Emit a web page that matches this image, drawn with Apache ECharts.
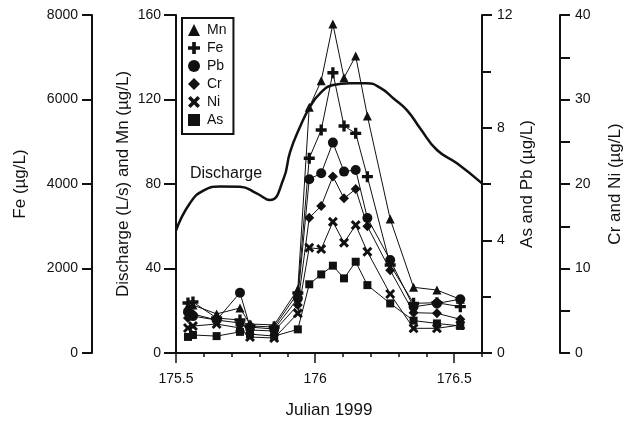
<!DOCTYPE html>
<html>
<head>
<meta charset="utf-8">
<title>Discharge and metals, Julian 1999</title>
<script src="https://cdn.jsdelivr.net/npm/echarts@6/dist/echarts.min.js"></script>
<style>
	html, body { margin: 0; padding: 0; background: #fff; }
	#chart { width: 624px; height: 421px; }
</style>
</head>
<body>
<div id="chart"></div>
<script>
// sample times (Julian day, 1999) shared by all metal series
var sampleDays = [175.543, 175.561, 175.646, 175.73, 175.766, 175.853, 175.938, 175.979, 176.022, 176.064, 176.104, 176.146, 176.188, 176.27, 176.354, 176.438, 176.522];
var mnConc = [22.2, 22.7, 18.5, 21.3, 13.7, 13.3, 30.2, 116.3, 128.9, 155.7, 130.3, 140.6, 112.2, 63.4, 31.1, 29.8, 25.4];
var feConc = [1183, 1207, 828, 781, 639, 615, 1420, 4609, 5278, 6634, 5373, 5200, 4173, 2083, 1176, 1190, 1096];
var pbConc = [1.46, 1.31, 1.17, 2.14, 0.92, 0.85, 1.94, 6.17, 6.38, 7.47, 6.44, 6.5, 4.79, 3.3, 1.64, 1.76, 1.91];
var crConc = [4.14, 4.61, 3.9, 3.55, 2.72, 2.6, 5.68, 16.0, 17.4, 20.9, 18.3, 19.4, 15.0, 9.8, 4.77, 4.7, 3.99];
var niConc = [2.96, 3.19, 3.43, 2.96, 1.89, 1.77, 4.7, 12.46, 12.3, 15.53, 13.05, 15.14, 11.98, 6.98, 2.92, 2.92, 3.31];
var asConc = [0.57, 0.64, 0.6, 0.75, 0.67, 0.6, 0.84, 2.44, 2.79, 3.1, 2.65, 3.24, 2.41, 1.76, 1.15, 1.05, 0.96];

// discharge hydrograph (L/s)
var dischargeDays = [175.5, 175.55, 175.6, 175.66, 175.73, 175.79, 175.838, 175.886, 175.91, 175.946, 175.982, 176.018, 176.065, 176.126, 176.186, 176.236, 176.282, 176.33, 176.378, 176.438, 176.51, 176.6];
var dischargeFlow = [58.0, 70.9, 77.0, 78.8, 78.7, 75.6, 72.4, 82.2, 95.1, 107.1, 116.6, 122.9, 126.9, 127.7, 127.7, 125.4, 120.5, 115.0, 106.3, 96.1, 89.8, 80.3];

// tick labels
var xMajorTicks = [175.5, 176, 176.5];

var plusPath = "path://M-1,-3.3H1V-1H3.3V1H1V3.3H-1V1H-3.3V-1H-1Z";
var crossPath = "path://M1.556,-2.687L2.687,-1.556L1.131,0L2.687,1.556L1.556,2.687L0,1.131L-1.556,2.687L-2.687,1.556L-1.131,0L-2.687,-1.556L-1.556,-2.687L0,-1.131Z";

function pairs(xs, ys) {
	return xs.map(function (x, i) {
		return [x, ys[i]];
	});
}

function metalSeries(name, values, axis, symbol, size) {
	return {
		name: name,
		type: "line",
		yAxisIndex: axis,
		data: pairs(sampleDays, values),
		symbol: symbol,
		symbolSize: size,
		showAllSymbol: true,
		lineStyle: { color: "#111", width: 1 },
		itemStyle: { color: "#111" },
		z: 3
	};
}

var axisLine = { show: true, lineStyle: { color: "#111", width: 2 } };
var axisTick = { show: true, length: 10, lineStyle: { color: "#111", width: 2 } };
var nameStyle = { color: "#111", fontSize: 17 };

function plain(v) {
	return String(v);
}

function drawChart() {
	var myChart = echarts.init(document.getElementById("chart"));
	myChart.setOption({
		animation: false,
		backgroundColor: "#fff",
		textStyle: { fontFamily: "Liberation Sans, Arial, sans-serif" },
		grid: {
			left: 176,
			right: 142,
			top: 15,
			bottom: 68,
			containLabel: false,
			outerBoundsMode: "none"
		},
		legend: {
			orient: "vertical",
			left: 182,
			top: 18,
			padding: [5, 7, 7, 6],
			itemGap: 4,
			itemWidth: 12,
			itemHeight: 12,
			borderColor: "#111",
			borderWidth: 2,
			selectedMode: false,
			textStyle: { color: "#111", fontSize: 14, padding: [0, 0, 0, 2] },
			data: [
				{ name: "Mn", icon: "triangle" },
				{ name: "Fe", icon: plusPath },
				{ name: "Pb", icon: "circle" },
				{ name: "Cr", icon: "diamond" },
				{ name: "Ni", icon: crossPath },
				{ name: "As", icon: "rect" }
			]
		},
		graphic: [
			{
				type: "text",
				left: 190,
				top: 166,
				style: {
					text: "Discharge",
					fontSize: 16,
					fill: "#111",
					fontFamily: "Liberation Sans, Arial, sans-serif"
				}
			}
		],
		xAxis: [
			{
				type: "value",
				min: 175.5,
				max: 176.6,
				interval: 0.1,
				position: "bottom",
				axisLine: axisLine,
				axisTick: { show: true, length: 4, lineStyle: { color: "#111", width: 1.5 } },
				axisLabel: {
					customValues: xMajorTicks,
					formatter: plain,
					margin: 19,
					color: "#111",
					fontSize: 14
				},
				splitLine: { show: false },
				name: "Julian 1999",
				nameLocation: "middle",
				nameGap: 49,
				nameTextStyle: nameStyle
			},
			{
				type: "value",
				min: 175.5,
				max: 176.6,
				position: "bottom",
				axisLine: { show: false },
				axisTick: { show: true, length: 10, customValues: xMajorTicks, lineStyle: { color: "#111", width: 1.5 } },
				axisLabel: { show: false },
				splitLine: { show: false }
			},
			{
				type: "value",
				min: 175.5,
				max: 176.6,
				position: "top",
				axisLine: axisLine,
				axisTick: { show: false },
				axisLabel: { show: false },
				splitLine: { show: false }
			}
		],
		yAxis: [
			{
				type: "value",
				position: "left",
				offset: 0,
				min: 0,
				max: 160,
				interval: 40,
				name: "Discharge (L/s) and Mn (µg/L)",
				nameLocation: "middle",
				nameRotate: 90,
				nameGap: 44,
				nameMoveOverlap: false,
				nameTextStyle: nameStyle,
				axisLine: axisLine,
				axisTick: { show: true, length: 12, lineStyle: { color: "#111", width: 2 } },
				axisLabel: { margin: 15, color: "#111", fontSize: 14, formatter: plain },
				splitLine: { show: false }
			},
			{
				type: "value",
				position: "left",
				offset: 84,
				min: 0,
				max: 8000,
				interval: 2000,
				name: "Fe (µg/L)",
				nameLocation: "middle",
				nameRotate: 90,
				nameGap: 63,
				nameMoveOverlap: false,
				nameTextStyle: nameStyle,
				axisLine: axisLine,
				axisTick: axisTick,
				axisLabel: { margin: 14, color: "#111", fontSize: 14, formatter: plain },
				splitLine: { show: false }
			},
			{
				type: "value",
				position: "right",
				offset: 0,
				min: 0,
				max: 12,
				interval: 4,
				name: "As and Pb (µg/L)",
				nameLocation: "middle",
				nameRotate: 90,
				nameGap: 37,
				nameMoveOverlap: false,
				nameTextStyle: nameStyle,
				axisLine: axisLine,
				axisTick: axisTick,
				minorTick: { show: true, splitNumber: 2, length: 9, lineStyle: { color: "#111", width: 2 } },
				axisLabel: { margin: 15, color: "#111", fontSize: 14, formatter: plain },
				splitLine: { show: false }
			},
			{
				type: "value",
				position: "right",
				offset: 78,
				min: 0,
				max: 40,
				interval: 10,
				name: "Cr and Ni (µg/L)",
				nameLocation: "middle",
				nameRotate: 90,
				nameGap: 47,
				nameMoveOverlap: false,
				nameTextStyle: nameStyle,
				axisLine: axisLine,
				axisTick: axisTick,
				minorTick: { show: true, splitNumber: 2, length: 10, lineStyle: { color: "#111", width: 2 } },
				axisLabel: { margin: 15, color: "#111", fontSize: 14, formatter: plain },
				splitLine: { show: false }
			}
		],
		series: [
			{
				name: "Discharge",
				type: "line",
				yAxisIndex: 0,
				data: pairs(dischargeDays, dischargeFlow),
				showSymbol: false,
				smooth: 0.5,
				lineStyle: { color: "#111", width: 2.5 },
				z: 2
			},
			metalSeries("Mn", mnConc, 0, "triangle", 9),
			metalSeries("Fe", feConc, 1, plusPath, 11),
			metalSeries("Pb", pbConc, 2, "circle", 10),
			metalSeries("Cr", crConc, 3, "diamond", 10),
			metalSeries("Ni", niConc, 3, crossPath, 10),
			metalSeries("As", asConc, 2, "rect", 8)
		]
	});
}

drawChart();
</script>
</body>
</html>
